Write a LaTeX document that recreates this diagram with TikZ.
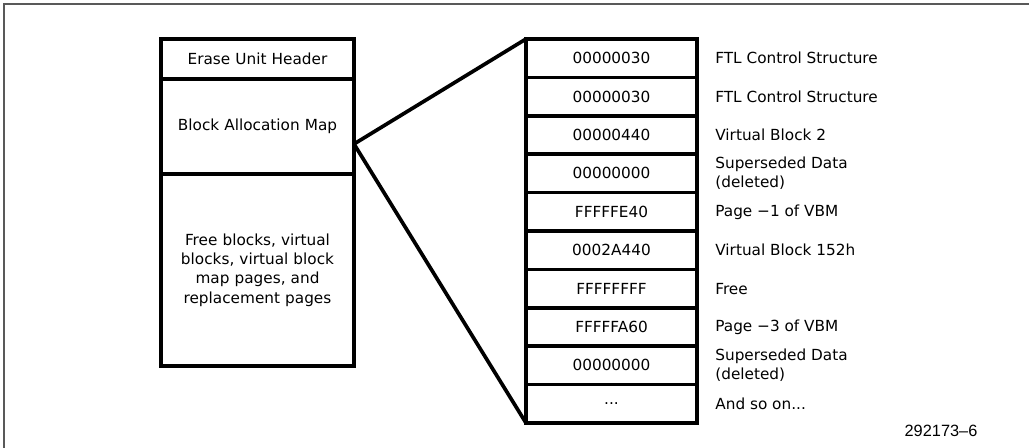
\documentclass[tikz,border=0pt]{standalone}
\usepackage{fontspec}
\setmainfont{DejaVu Sans}
\newfontfamily\tagfont{Liberation Sans}
\usetikzlibrary{positioning}
\tikzstyle{unitbox} = [rectangle, draw=black, line width=2.1pt, minimum width=3.86cm, text width=3.4cm, align=center, inner sep=0pt, outer sep=0pt]
\tikzstyle{slot} = [rectangle, draw=black, line width=2.1pt, minimum width=3.42cm, minimum height=0.768cm, inner sep=0pt, outer sep=0pt]
\tikzstyle{note} = [anchor=west, align=left, inner sep=0pt]
\tikzstyle{link} = [line width=2.1pt, line join=miter]
\tikzstyle{frame} = [line width=1.1pt, draw=black!65]
\begin{document}
\begin{tikzpicture}[node distance=0pt, font=\fontsize{8.7pt}{11pt}\selectfont]
\useasboundingbox (0,0) rectangle (20.58,8.96);
% page border, top and left only
\draw [frame] (0.08,0) -- (0.08,8.88) -- (20.58,8.88);

% erase unit
\node (header) [unitbox, minimum height=0.8cm] at (5.15,7.78) {Erase Unit Header};
\node (bam) [unitbox, minimum height=1.9cm, below=of header] {Block Allocation Map};
\node (free) [unitbox, minimum height=3.84cm, below=of bam] {Free blocks, virtual\\blocks, virtual block\\map pages, and\\replacement pages};

% block allocation map entries
\node (s1) [slot] at (12.23,7.796) {00000030};
\node (s2) [slot, below=of s1] {00000030};
\node (s3) [slot, below=of s2] {00000440};
\node (s4) [slot, below=of s3] {00000000};
\node (s5) [slot, below=of s4] {FFFFFE40};
\node (s6) [slot, below=of s5] {0002A440};
\node (s7) [slot, below=of s6] {FFFFFFFF};
\node (s8) [slot, below=of s7] {FFFFFA60};
\node (s9) [slot, below=of s8] {00000000};
\node (s10) [slot, below=of s9] {...};

\node (n1) [note, right=0.36cm of s1] {FTL Control Structure};
\node (n2) [note, right=0.36cm of s2] {FTL Control Structure};
\node (n3) [note, right=0.36cm of s3] {Virtual Block 2};
\node (n4) [note, right=0.36cm of s4] {Superseded Data\\(deleted)};
\node (n5) [note, right=0.36cm of s5] {Page −1 of VBM};
\node (n6) [note, right=0.36cm of s6] {Virtual Block 152h};
\node (n7) [note, right=0.36cm of s7] {Free};
\node (n8) [note, right=0.36cm of s8] {Page −3 of VBM};
\node (n9) [note, right=0.36cm of s9] {Superseded Data\\(deleted)};
\node (n10) [note, right=0.36cm of s10] {And so on...};

\node (fig) [font=\tagfont\fontsize{9.3pt}{11pt}\selectfont, inner sep=0pt] at (18.82,0.34) {292173–6};

\coordinate (tap) at ([yshift=-0.35cm]bam.east);
\draw [link] (tap) -- (s1.north west);
\draw [link] (tap) -- (s10.south west);
\end{tikzpicture}
\end{document}
